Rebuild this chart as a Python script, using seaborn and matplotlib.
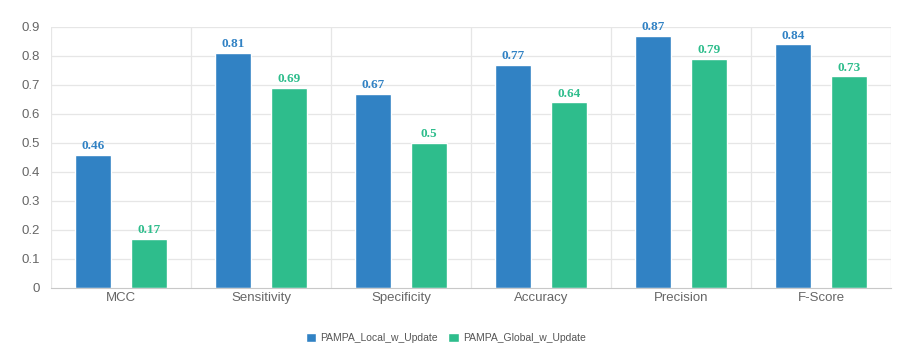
import seaborn as sns
import matplotlib.pyplot as plt
import numpy as np
import pandas as pd

# metrics and scores for both variants
metrics = ['MCC', 'Sensitivity', 'Specificity', 'Accuracy', 'Precision', 'F-Score']
local_scores = [0.46, 0.81, 0.67, 0.77, 0.87, 0.84]
global_scores = [0.17, 0.69, 0.5, 0.64, 0.79, 0.73]
series = ['PAMPA_Local_w_Update', 'PAMPA_Global_w_Update']
colors = ['#3182c4', '#2ebd8c']

df = pd.DataFrame({
    'metric': metrics * 2,
    'score': local_scores + global_scores,
    'model': [series[0]] * len(metrics) + [series[1]] * len(metrics),
})

sns.set_style('white')
plt.rcParams['font.family'] = ['Liberation Sans', 'DejaVu Sans']

fig = plt.figure(figsize=(9, 3.51), dpi=100)
ax = fig.add_axes([0.0567, 0.1795, 0.9333, 0.7436])

sns.barplot(data=df, x='metric', y='score', hue='model', palette=colors,
            saturation=1, width=0.8, ax=ax, legend=True)

# narrow the bars, keep their centres
bw = 0.257
for p in ax.patches:
    if p.get_height() == 0:
        continue
    c = p.get_x() + p.get_width() / 2
    p.set_width(bw)
    p.set_x(c - bw / 2)

# value labels
for cont, col in zip(ax.containers, colors):
    ax.bar_label(cont, labels=[f'{v:g}' for v in cont.datavalues], padding=2,
                 color=col, fontsize=9.5, fontweight='bold', family='Liberation Serif')

ax.set_xlim(-0.5, len(metrics) - 0.5)
ax.set_ylim(0, 0.9)
ax.set_yticks(np.arange(0, 0.91, 0.1))
ax.set_yticklabels(['0'] + [f'{v:.1f}' for v in np.arange(0.1, 0.91, 0.1)])
ax.set_xlabel('')
ax.set_ylabel('')

# grid: horizontal at ticks, vertical at category boundaries
for y in np.arange(0.1, 0.91, 0.1):
    ax.axhline(y, color='#e6e6e6', lw=0.9, zorder=0)
for x in np.arange(-0.5, len(metrics), 1.0):
    ax.axvline(x, color='#e6e6e6', lw=0.9, zorder=0)
ax.set_axisbelow(True)

for s in ['top', 'right', 'left']:
    ax.spines[s].set_visible(False)
ax.spines['bottom'].set_color('#c8c8c8')
ax.tick_params(axis='both', length=0, colors='#666666', labelsize=9.5)
ax.tick_params(axis='y', pad=8)
ax.tick_params(axis='x', pad=3)

ax.legend(loc='upper center', bbox_to_anchor=(0.47, -0.135), ncol=2, frameon=False,
          fontsize=7.5, handlelength=1.0, handleheight=1.0, handletextpad=0.4,
          columnspacing=1.0, labelcolor='#555555')

fig.savefig('out.png', dpi=100)
